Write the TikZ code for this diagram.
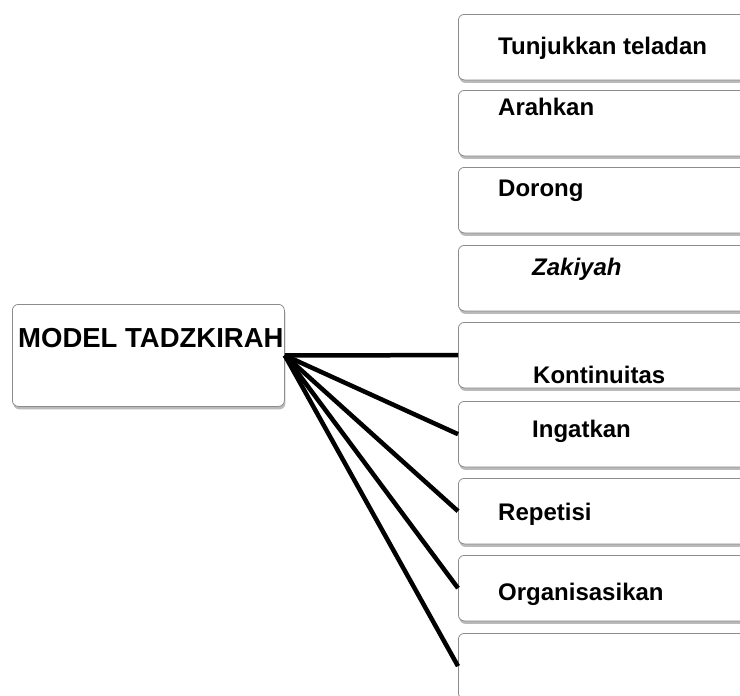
\documentclass[tikz,border=0pt]{standalone}
\usepackage{fontspec}
\setmainfont{Liberation Sans}
\usetikzlibrary{shadows}
\begin{document}
\begin{tikzpicture}[x=1pt,y=-1pt,
 box/.style={draw=black!45, line width=0.8pt, rounded corners=6pt, fill=white,
   drop shadow={shadow xshift=1pt, shadow yshift=-3pt, opacity=0.45, fill=black!60},
   minimum height=65.5pt, minimum width=300pt, anchor=north west, inner sep=0pt},
 lbl/.style={font=\bfseries\fontsize{24}{24}\selectfont, anchor=base west, inner sep=0pt},
 link/.style={line width=4.5pt}]
\clip (0,0) rectangle (740,696);
\fill[white] (0,0) rectangle (740,696);
% main box
\node[box, minimum width=272pt, minimum height=102pt] (main) at (12,304) {};
\node[lbl, font=\bfseries\fontsize{27.5}{27.5}\selectfont] (tmain) at (18,347) {MODEL TADZKIRAH};
% right boxes
\node[box] (b1) at (458,14) {};
\node[box] (b2) at (458,90) {};
\node[box] (b3) at (458,167) {};
\node[box] (b4) at (458,245) {};
\node[box] (b5) at (458,322) {};
\node[box] (b6) at (458,401) {};
\node[box] (b7) at (458,478) {};
\node[box] (b8) at (458,555) {};
\node[box] (b9) at (458,633) {};
% labels
\node[lbl] (t1) at (498,54) {Tunjukkan teladan};
\node[lbl] (t2) at (498,115) {Arahkan};
\node[lbl] (t3) at (498,196) {Dorong};
\node[lbl, font=\bfseries\itshape\fontsize{24}{24}\selectfont] (t4) at (532,275) {Zakiyah};
\node[lbl] (t5) at (533,383) {Kontinuitas};
\node[lbl] (t6) at (532,437) {Ingatkan};
\node[lbl] (t7) at (498,520) {Repetisi};
\node[lbl] (t8) at (498,600) {Organisasikan};
% connectors
\draw[link] (main.east) -- (b5.west);
\draw[link] (main.east) -- (b6.west);
\draw[link] (main.east) -- (b7.west);
\draw[link] (main.east) -- (b8.west);
\draw[link] (main.east) -- (b9.west);
\end{tikzpicture}
\end{document}
